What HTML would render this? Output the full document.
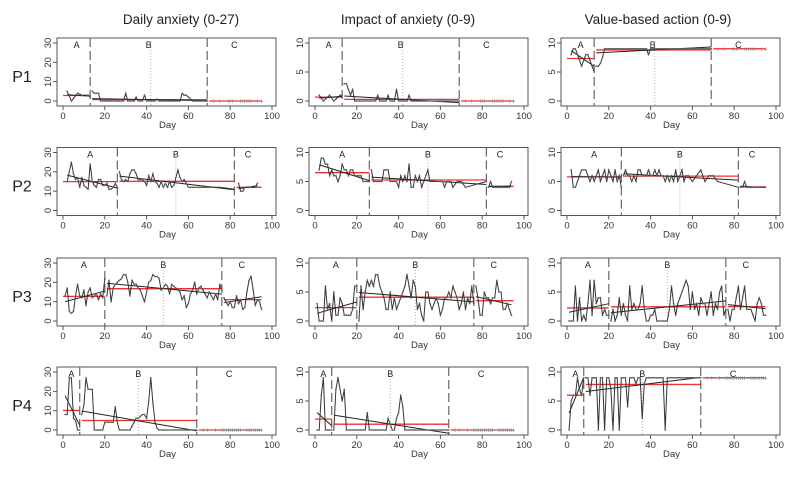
<!DOCTYPE html>
<html><head><meta charset="utf-8"><style>
body{margin:0;background:#fff;}
svg{display:block;font-family:"Liberation Sans",sans-serif;}
</style></head><body>
<svg id="chart" width="800" height="479" xmlns="http://www.w3.org/2000/svg"></svg>
<script>
const N=null;
const colTitles=["Daily anxiety (0-27)","Impact of anxiety (0-9)","Value-based action (0-9)"];
const rowLabels=["P1","P2","P3","P4"];
const xTicks=[0,20,40,60,80,100];
const yTicksAnx=[0,10,20,30];
const yTicksSmall=[0,5,10];
const yMaxes=[30,10,10];
// phase boundaries per participant [A/B, B/C], and dotted midline
const phaseBounds=[[13,69],[26,82],[20,76],[8,64]];
const midLines=[42,54,48,36];
// whether phase C is drawn as a connected line for each participant
const phaseCConnected=[false,true,true,false];
// values indexed by day (index 0 = day 1)
const anxP1=[N,5,N,0,N,N,4,N,3,N, N,3,2,5,4,4,4,0,0,0, 0,0,0,0,0,0,0,0,0,4, 0,0,0,0,2,0,0,0,3,0, 0,0,0,0,1,0,0,0,0,0, 0,0,0,0,0,0,4,3,3,2, 1,0,0,0,0,0,0,0,0,N, N,0,N,N,0,N,N,N,0,0, 0,N,N,N,0,0,0,0,0,0, N,N,0,N,0];
const impP1=[N,1,N,0,N,N,1,N,0,N, N,1,1,3,3,2,1,2,0,0, 0,0,0,0,0,0,0,0,0,1, 0,0,0,0,1,0,0,0,2,0, 0,0,0,0,1,0,0,0,0,0, 0,0,0,0,0,0,0,0,0,0, 0,0,0,0,0,0,0,0,0,N, N,0,N,N,0,N,N,N,0,0, 0,N,N,N,0,0,0,0,0,0, N,N,0,N,0];
const valP1=[N,8,9,9,8,7,6,7,8,8, 7,6,5,6,6,6.5,7.5,9,9,9, 9,9,9,9,9,9,9,9,9,9, 9,9,9,9,9,9,9,9,8,9, 9,9,9,9,9,9,9,9,9,9, 9,9,9,9,9,9,9,9,9,9, 9,9,9,9,9,9,9,9,9,N, N,9,N,N,9,N,N,N,9,9, 9,N,N,N,9,9,9,9,9,9, N,N,9,N,9];
const anxP2=[N,15,20,25,19,16,17,12,17,13, 12,11,24,15,13,12,16,16,13,13, 14,11,11,12,14,12,20,16,15,16, 15,19,21,21,19,16,16,16,15,13, 18,15,19,15,14,12,15,12,14,12, 15,12,13,17,21,17,15,16,14,12, 12,12,N,N,12,N,N,N,12,12, N,N,N,N,12,N,N,N,N,N, N,11,N,14,10,10,12,N,N,12, N,12,14];
const impP2=[N,7,9,9,8,8,6,7,6,6, 5,6,8,7,7,6,7,7,6,6, 6,6,5,5,5,5,7,5,5,5, 5,5,7,7,7,5,5,5,5,4, 6,5,6,5,8,4,4,6,5,6, 4,5,6,7,5,5,N,5,N,5, 5,4,5,5,5,4,N,5,N,5, N,4,N,N,N,N,N,N,N,N, N,5,4,5,4,4,4,4,4,4, 4,4,4,5];
const valP2=[N,7,4,4,5,6,7,7,7,6, 5,6,5,6,7,5,6,7,5,7, 6,5,7,5,6,4,6,7,6,6, 5,6,5,7,7,6,6,6,7,6, 6,7,6,7,6,6,5,6,5,6, 5,7,5,6,7,5,6,6,N,5, N,6,N,7,N,5,N,6,N,6, N,5,N,N,N,N,N,N,N,N, N,4,4,4,5,4,4,4,4,4, 4,4,4,4,4];
const anxP3=[13,17,5,4,5,13,19,13,12,16, 8,15,17,12,13,14,11,14,12,22, 13,21,10,17,19,20,21,22,24,24, 20,13,21,19,19,17,16,13,10,15, 20,21,24,23,23,22,16,17,19,18, 14,19,18,17,16,15,11,13,7,9, 14,16,20,14,17,18,16,14,12,15, 13,11,14,11,19,16,12,10,8,10, 7,7,13,9,11,6,7,15,21,23, 16,8,11,10,6];
const impP3=[3,0,0,0,6,2,3,0,5,1, 1,4,3,1,1,1,1,2,6,6, 0,6,2,5,7,6,7,6,8,8, 6,5,4,2,2,5,2,4,2,3, 4,5,6,8,6,4,7,6,2,3, 1,0,5,5,3,2,3,4,3,1, 2,4,4,5,4,6,5,4,2,3, 5,2,4,3,6,3,6,4,1,1, 5,4,4,3,4,4,7,5,5,2, 2,3,2,1];
const valP3=[0,0,0,6,0,4,0,1,0,3, 7,1,7,3,4,4,1,2,1,1, 0,2,0,1,4,1,3,1,0,6, 2,3,2,2,3,6,2,0,0,1, 1,2,0,0,0,0,0,0,2,6, 3,1,3,4,5,6,7,6,2,5, 2,3,1,4,3,3,1,3,5,1, 3,2,5,6,1,2,2,0,2,2, 4,6,2,4,6,2,2,2,1,0, 3,4,3,1,1];
const anxP4=[8,8,27,27,6,5,0,0,8,13, 27,21,21,21,0,0,0,0,0,4, 4,4,4,4,12,4,0,0,0,0, 0,0,2,4,6,6,7,8,8,6, 15,27,14,4,1,0,0,0,N,0, N,0,N,0,0,N,0,0,0,0, 0,0,0,0,N,N,0,N,0,N, N,N,0,N,N,0,0,0,0,0, 0,0,0,0,0,N,N,0,0,0, 0,0,0,0,0];
const impP4=[0,0,6,9,0,0,0,0,0,7, 9,7,5,7,0,0,0,0,0,0, 0,0,0,0,3,0,0,0,0,0, 0,0,0,0,2,1,0,0,2,3, 6,4,0,0,0,0,0,0,0,0, 0,0,0,0,0,0,0,0,0,0, 0,0,0,0,N,N,0,N,0,N, N,N,0,N,N,0,0,0,0,0, 0,0,0,0,0,N,N,0,0,0, 0,0,0,0,0];
const valP4=[0,5,6,6,9,7,6,9,9,9, 6,9,9,9,0,9,9,0,9,9, 7,0,9,9,0,9,9,9,4,9, 9,9,8,9,9,2,8,9,9,9, 9,9,9,9,9,9,0,9,9,9, 9,9,9,9,9,9,9,9,9,9, 9,9,9,9,N,N,9,N,9,N, N,N,9,N,N,9,9,9,9,9, 9,9,9,9,9,N,N,9,9,9, 9,9,9,9,9];
const seriesGrid=[[anxP1,impP1,valP1],[anxP2,impP2,valP2],[anxP3,impP3,valP3],[anxP4,impP4,valP4]];

const svg=document.getElementById('chart');
const NS='http://www.w3.org/2000/svg';
function mk(tag,attrs,parent){const e=document.createElementNS(NS,tag);for(const k in attrs)e.setAttribute(k,attrs[k]);(parent||svg).appendChild(e);return e;}
const boxL=[57,309,561], boxW=219, boxH=68, rowT=[38,147.5,258,367];
const titleX=[181,408,658];

colTitles.forEach((t,c)=>{const e=mk('text',{x:titleX[c],y:24,'text-anchor':'middle','font-size':13.5,fill:'#222'});e.textContent=t;

});
rowLabels.forEach((t,r)=>{const e=mk('text',{x:22,y:rowT[r]+44,'text-anchor':'middle','font-size':16,fill:'#222'});e.textContent=t;

});

function fit(pts){const n=pts.length;if(n<2)return null;let sx=0,sy=0,sxx=0,sxy=0;pts.forEach(p=>{sx+=p[0];sy+=p[1];sxx+=p[0]*p[0];sxy+=p[0]*p[1];});const d=n*sxx-sx*sx;if(!d)return null;const b=(n*sxy-sx*sy)/d;return {a:(sy-b*sx)/n,b:b};}

for(let r=0;r<4;r++)for(let c=0;c<3;c++){
  const L=boxL[c],T=rowT[r],B=T+boxH;
  const ymax=yMaxes[c];
  const X=d=>L+6+d*2.09;
  const Y=v=>B-5-v*(boxH-10)/ymax;
  const g=mk('g',{});
  
  
  const box=mk('rect',{x:L,y:T,width:boxW,height:boxH,fill:'none',stroke:'#555','stroke-width':1},g);
  
  
  xTicks.forEach(t=>{mk('line',{x1:X(t),x2:X(t),y1:B,y2:B+4,stroke:'#555'},g);const e=mk('text',{x:X(t),y:B+13,'text-anchor':'middle','font-size':9.5,fill:'#333'},g);e.textContent=t;
  
  });
  const dl=mk('text',{x:X(50),y:B+22,'text-anchor':'middle','font-size':9.5,fill:'#333'},g);dl.textContent='Day';
  
  
  const yt=c===0?yTicksAnx:yTicksSmall;
  yt.forEach(t=>{mk('line',{x1:L-4,x2:L,y1:Y(t),y2:Y(t),stroke:'#555'},g);const e=mk('text',{x:0,y:0,'text-anchor':'middle','font-size':9.5,fill:'#333',transform:`translate(${L-6},${Y(t)}) rotate(-90)`},g);e.textContent=t;
  
  });
  const pb=phaseBounds[r];
  const ranges=[[0,pb[0]],[pb[0],pb[1]],[pb[1],95]];
  pb.forEach(p=>{const e=mk('line',{x1:X(p),x2:X(p),y1:T,y2:B,stroke:'#666','stroke-width':1.2,'stroke-dasharray':'9,4'},g);
  
  });
  const ml=mk('line',{x1:X(midLines[r]),x2:X(midLines[r]),y1:T,y2:B,stroke:'#aaa','stroke-width':1,'stroke-dasharray':'1,2'},g);
  
  
  ['A','B','C'].forEach((lab,i)=>{const e=mk('text',{x:X((ranges[i][0]+ranges[i][1])/2),y:T+10,'text-anchor':'middle','font-size':9,fill:'#222'},g);e.textContent=lab;
  
  });
  const vals=seriesGrid[r][c];
  ranges.forEach((rg,i)=>{
    const pts=[];vals.forEach((v,k)=>{const d=k+1;if(v===null)return;const inP=i===0?d<=rg[1]:(d>rg[0]&&(i===2||d<=rg[1]));if(inP)pts.push([d,v]);});
    if(!pts.length)return;
    const connected=i<2||phaseCConnected[r];
    const mean=pts.reduce((s,p)=>s+p[1],0)/pts.length;
    const x1=i===0?0:rg[0]+1,x2=i===2?95:rg[1];
    const ml2=mk('line',{x1:X(x1),x2:X(x2),y1:Y(mean),y2:Y(mean),stroke:'#f03030','stroke-width':1.3},g);
    
    
    if(connected){
      const f=fit(pts);
      if(f){const a=pts[0][0],b=pts[pts.length-1][0];const tl=mk('line',{x1:X(a),x2:X(b),y1:Y(f.a+f.b*a),y2:Y(f.a+f.b*b),stroke:'#222','stroke-width':1},g);
      
      }
      const pl=mk('polyline',{points:pts.map(p=>X(p[0]).toFixed(1)+','+Y(p[1]).toFixed(1)).join(' '),fill:'none',stroke:'#333','stroke-width':1},g);
      
      
      pts.forEach(p=>{const m=mk('circle',{cx:X(p[0]),cy:Y(p[1]),r:0.9,fill:'#666'},g);
      
      });
    } else {
      pts.forEach(p=>{const m=mk('text',{x:X(p[0]),y:Y(p[1])+2.5,'text-anchor':'middle','font-size':7,fill:'#777'},g);m.textContent='+';
      
      });
    }
  });
}
</script>
</body></html>
